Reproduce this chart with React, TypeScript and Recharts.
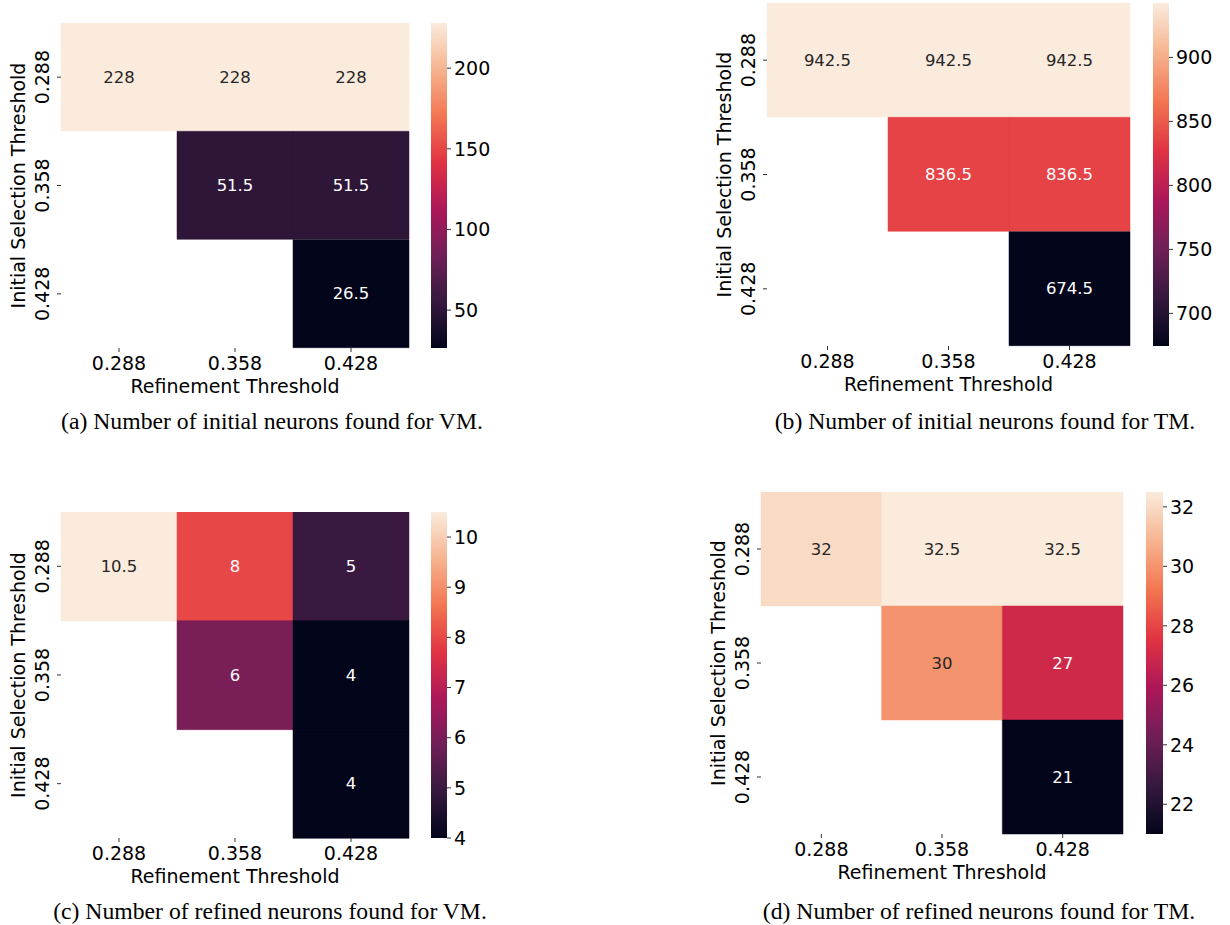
import React from 'react';
import { BarChart, Bar, XAxis, YAxis, Cell, LabelList } from 'recharts';

const refinementThresholds = ['0.288', '0.358', '0.428'];
const selectionThresholds = ['0.288', '0.358', '0.428'];

// rows = initial selection threshold, columns = refinement threshold
const initialVM = [
  [228, 228, 228],
  [null, 51.5, 51.5],
  [null, null, 26.5],
];
const initialTM = [
  [942.5, 942.5, 942.5],
  [null, 836.5, 836.5],
  [null, null, 674.5],
];
const refinedVM = [
  [10.5, 8, 5],
  [null, 6, 4],
  [null, null, 4],
];
const refinedTM = [
  [32, 32.5, 32.5],
  [null, 30, 27],
  [null, null, 21],
];

const initialVMTicks = [50, 100, 150, 200];
const initialTMTicks = [700, 750, 800, 850, 900];
const refinedVMTicks = [4, 5, 6, 7, 8, 9, 10];
const refinedTMTicks = [22, 24, 26, 28, 30, 32];

const captions = [
  '(a) Number of initial neurons found for VM.',
  '(b) Number of initial neurons found for TM.',
  '(c) Number of refined neurons found for VM.',
  '(d) Number of refined neurons found for TM.',
];

// seaborn "rocket"
const rocket: [number, string][] = [
  [0, '#03051a'],
  [1 / 7, '#35193e'],
  [2 / 7, '#701f57'],
  [3 / 7, '#ad1759'],
  [4 / 7, '#e13342'],
  [5 / 7, '#f37651'],
  [6 / 7, '#f6b48f'],
  [1, '#faebdd'],
];

const SANS = '"DejaVu Sans", sans-serif';

function hexToRgb(h: string) {
  return [1, 3, 5].map((i) => parseInt(h.slice(i, i + 2), 16));
}

function rocketRgb(t: number) {
  const v = Math.max(0, Math.min(1, t));
  for (let i = 1; i < rocket.length; i++) {
    if (v <= rocket[i][0]) {
      const [t0, c0] = rocket[i - 1];
      const [t1, c1] = rocket[i];
      const f = (v - t0) / (t1 - t0);
      const a = hexToRgb(c0);
      const b = hexToRgb(c1);
      return a.map((x, k) => Math.round(x + (b[k] - x) * f));
    }
  }
  return hexToRgb(rocket[rocket.length - 1][1]);
}

const rgbStr = (c: number[]) => `rgb(${c[0]},${c[1]},${c[2]})`;

function textColor(c: number[]) {
  const lin = c.map((x) => {
    const s = x / 255;
    return s <= 0.03928 ? s / 12.92 : Math.pow((s + 0.055) / 1.055, 2.4);
  });
  const lum = 0.2126 * lin[0] + 0.7152 * lin[1] + 0.0722 * lin[2];
  return lum > 0.408 ? '#262626' : '#ffffff';
}

interface PanelProps {
  id: string;
  values: (number | null)[][];
  cbTicks: number[];
  caption: string;
  plotX: number;
  plotY: number;
  plotW: number;
  plotH: number;
  cbX: number;
  cbW: number;
  capX: number;
  capY: number;
}

const YTick = (props: any) => {
  const { x, y, payload } = props;
  return (
    <text
      x={x}
      y={y}
      transform={`rotate(-90, ${x}, ${y})`}
      textAnchor="middle"
      fontSize={19}
      fontFamily={SANS}
      fill="#000"
    >
      {payload.value}
    </text>
  );
};

const YTitle = (props: any) => {
  const vb = props.viewBox;
  const x = vb.x + 25;
  const y = vb.y + vb.height / 2;
  return (
    <text x={x} y={y} transform={`rotate(-90, ${x}, ${y})`} textAnchor="middle" fontSize={19} fontFamily={SANS} fill="#000">
      Initial Selection Threshold
    </text>
  );
};

const XTitle = (props: any) => {
  const vb = props.viewBox;
  return (
    <text x={vb.x + vb.width / 2} y={vb.y + 45} textAnchor="middle" fontSize={19} fontFamily={SANS} fill="#000">
      Refinement Threshold
    </text>
  );
};

function Panel(p: PanelProps) {
  const flat = p.values.flat().filter((v): v is number => v != null);
  const vmin = Math.min(...flat);
  const vmax = Math.max(...flat);
  const norm = (v: number) => (v - vmin) / (vmax - vmin);

  const rows = selectionThresholds.map((s) => ({ row: s, c0: 1, c1: 1, c2: 1 }));
  const yAxisW = 61;
  const chartW = yAxisW + p.plotW + 2;
  const chartH = p.plotH + 52;

  const cbData = [{ k: 'cb', range: [vmin, vmax] }];
  const cbMargin = 12;
  const stops = [...rocket].reverse();

  return (
    <>
      <div style={{ position: 'absolute', left: p.plotX - yAxisW, top: p.plotY }}>
        <BarChart
          width={chartW}
          height={chartH}
          data={rows}
          layout="vertical"
          barCategoryGap={0}
          barGap={0}
          margin={{ top: 0, right: 2, bottom: 0, left: 0 }}
        >
          <XAxis
            type="number"
            domain={[0, 3]}
            ticks={[0.5, 1.5, 2.5]}
            tickFormatter={(v: number) => refinementThresholds[Math.floor(v)]}
            height={52}
            axisLine={false}
            tickSize={4}
            tickMargin={5}
            tickLine={{ stroke: '#333' }}
            tick={{ fontSize: 19, fontFamily: SANS, fill: '#000' }}
            label={<XTitle />}
          />
          <YAxis
            type="category"
            dataKey="row"
            width={yAxisW}
            axisLine={false}
            tickSize={4}
            tickMargin={8}
            tickLine={{ stroke: '#333' }}
            tick={<YTick />}
            label={<YTitle />}
          />
          {[0, 1, 2].map((j) => (
            <Bar key={j} dataKey={`c${j}`} stackId="h" isAnimationActive={false}>
              {p.values.map((r, i) => {
                const v = r[j];
                const fill = v == null ? 'transparent' : rgbStr(rocketRgb(norm(v)));
                return <Cell key={i} fill={fill} stroke={fill} strokeWidth={0.5} />;
              })}
              <LabelList
                dataKey={`c${j}`}
                content={(lp: any) => {
                  const v = p.values[lp.index]?.[j];
                  if (v == null) return null;
                  const col = textColor(rocketRgb(norm(v)));
                  return (
                    <text
                      x={Number(lp.x) + Number(lp.width) / 2}
                      y={Number(lp.y) + Number(lp.height) / 2}
                      textAnchor="middle"
                      dominantBaseline="central"
                      fontSize={16.5}
                      fontFamily={SANS}
                      fill={col}
                    >
                      {String(v)}
                    </text>
                  );
                }}
              />
            </Bar>
          ))}
        </BarChart>
      </div>

      <div style={{ position: 'absolute', left: p.cbX, top: p.plotY - cbMargin }}>
        <BarChart
          width={p.cbW + 60}
          height={p.plotH + 2 * cbMargin}
          data={cbData}
          barCategoryGap={0}
          margin={{ top: cbMargin, right: 0, bottom: cbMargin, left: 0 }}
        >
          <defs>
            <linearGradient id={`grad-${p.id}`} x1="0" y1="0" x2="0" y2="1">
              {stops.map(([t, c]) => (
                <stop key={t} offset={1 - t} stopColor={c} />
              ))}
            </linearGradient>
          </defs>
          <XAxis dataKey="k" hide />
          <YAxis
            orientation="right"
            type="number"
            domain={[vmin, vmax]}
            allowDataOverflow
            ticks={p.cbTicks}
            width={60}
            axisLine={false}
            tickSize={4}
            tickMargin={3}
            tickLine={{ stroke: '#333' }}
            tick={{ fontSize: 19, fontFamily: SANS, fill: '#000' }}
          />
          <Bar dataKey="range" fill={`url(#grad-${p.id})`} isAnimationActive={false} />
        </BarChart>
      </div>

      <div
        style={{
          position: 'absolute',
          left: p.capX - 300,
          top: p.capY - 14,
          width: 600,
          textAlign: 'center',
          fontFamily: '"Liberation Serif", "Times New Roman", serif',
          fontSize: 23.7,
          lineHeight: '28px',
          color: '#000',
          whiteSpace: 'nowrap',
        }}
      >
        {p.caption}
      </div>
    </>
  );
}

export default function App() {
  return (
    <div style={{ position: 'absolute', left: 0, top: 0, width: 1230, height: 925, background: '#fff', overflow: 'hidden' }}>
      <Panel id="a" values={initialVM} cbTicks={initialVMTicks} caption={captions[0]}
        plotX={61} plotY={23} plotW={348} plotH={325} cbX={431} cbW={16} capX={272} capY={421} />
      <Panel id="b" values={initialTM} cbTicks={initialTMTicks} caption={captions[1]}
        plotX={767} plotY={3} plotW={363} plotH={343} cbX={1153} cbW={16} capX={985} capY={421} />
      <Panel id="c" values={refinedVM} cbTicks={refinedVMTicks} caption={captions[2]}
        plotX={61} plotY={512} plotW={348} plotH={326} cbX={431} cbW={16} capX={270} capY={911} />
      <Panel id="d" values={refinedTM} cbTicks={refinedTMTicks} caption={captions[3]}
        plotX={761} plotY={492} plotW={362} plotH={342} cbX={1146} cbW={17} capX={979} capY={911} />
    </div>
  );
}
